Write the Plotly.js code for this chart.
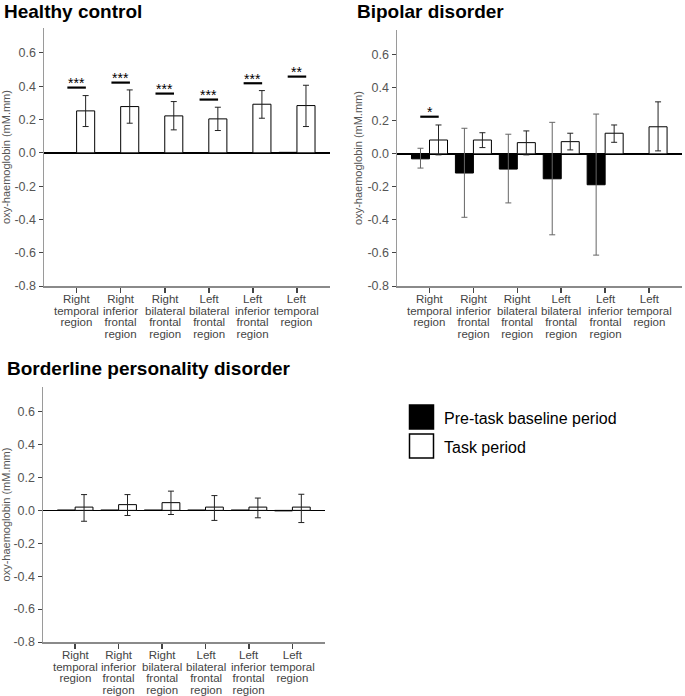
<!DOCTYPE html>
<html>
<head>
<meta charset="utf-8">
<script src="https://cdn.plot.ly/plotly-3.0.1.min.js"></script>
<style>
  html, body { margin: 0; padding: 0; background: #fff; }
  #chart { width: 685px; height: 696px; }
</style>
</head>
<body>
<div id="chart"></div>
<script>
// ---------------- DATA ----------------
const categories = [
  'Right temporal region',
  'Right inferior frontal region',
  'Right bilateral frontal region',
  'Left bilateral frontal region',
  'Left inferior frontal region',
  'Left temporal region'
];
const tickLabels = [
  'Right\ntemporal\nregion',
  'Right\ninferior\nfrontal\nregion',
  'Right\nbilateral\nfrontal\nregion',
  'Left\nbilateral\nfrontal\nregion',
  'Left\ninferior\nfrontal\nregion',
  'Left\ntemporal\nregion'
];
const tickLabelsBPD = [
  'Right\ntemporal\nregion',
  'Right\ninferior\nfrontal\nreigon',
  'Right\nbilateral\nfrontal\nregion',
  'Left\nbilateral\nfrontal\nregion',
  'Left\ninferior\nfrontal\nregion',
  'Left\ntemporal\nregion'
];
const seriesNames = ['Pre-task baseline period', 'Task period'];
const yTickVals = [-0.8, -0.6, -0.4, -0.2, 0.0, 0.2, 0.4, 0.6];
const yTitle = 'oxy-haemoglobin (mM.mm)';
const panelTitles = ['Healthy control', 'Bipolar disorder', 'Borderline personality disorder'];

// Healthy control
const hcPre     = [0.002, 0.002, 0.002, 0.002, 0.002, 0.003];
const hcTask    = [0.252, 0.278, 0.222, 0.204, 0.292, 0.284];
const hcTaskHi  = [0.344, 0.378, 0.308, 0.274, 0.374, 0.406];
const hcTaskLo  = [0.158, 0.178, 0.138, 0.134, 0.208, 0.158];
const hcSig     = ['***', '***', '***', '***', '***', '**'];
const hcSigY    = [0.392, 0.422, 0.356, 0.320, 0.418, 0.458];

// Bipolar disorder
const bdPre     = [-0.030, -0.116, -0.092, -0.151, -0.187, null];
const bdPreHi   = [0.034, 0.155, 0.119, 0.191, 0.241, null];
const bdPreLo   = [-0.086, -0.384, -0.297, -0.490, -0.613, null];
const bdTask    = [0.084, 0.084, 0.068, 0.074, 0.125, 0.164];
const bdTaskHi  = [0.175, 0.128, 0.139, 0.125, 0.175, 0.315];
const bdTaskLo  = [-0.006, 0.038, -0.006, 0.024, 0.070, 0.018];
const bdSig     = ['*', '', '', '', '', ''];
const bdSigY    = [0.225, null, null, null, null, null];

// Borderline personality disorder
const bpdPre    = [0.002, 0.002, 0.002, 0.002, 0.002, -0.003];
const bpdTask   = [0.020, 0.035, 0.047, 0.020, 0.020, 0.020];
const bpdTaskHi = [0.096, 0.096, 0.117, 0.090, 0.075, 0.098];
const bpdTaskLo = [-0.066, -0.031, -0.025, -0.061, -0.045, -0.074];

// ---------------- LAYOUT HELPERS ----------------
const W = 685, H = 696;
const fx = p => p / W;
const fy = p => 1 - p / H;
const FONT = 'Liberation Sans, Arial, Helvetica, sans-serif';
const LABEL_SIZE = 11.5;
const LABEL_SPACING = 11.6;   // px between lines of the category labels

const panels = [
  { ax: '', x0: 44, x1: 330, y0: 28, y1: 286, tx: 3, ty: -0.5, labels: tickLabels,
    pre: hcPre, preHi: null, preLo: null, task: hcTask, taskHi: hcTaskHi, taskLo: hcTaskLo, sig: hcSig, sigY: hcSigY },
  { ax: '2', x0: 397, x1: 682, y0: 30, y1: 286, tx: 356, ty: -0.5, labels: tickLabels,
    pre: bdPre, preHi: bdPreHi, preLo: bdPreLo, task: bdTask, taskHi: bdTaskHi, taskLo: bdTaskLo, sig: bdSig, sigY: bdSigY },
  { ax: '3', x0: 43, x1: 325, y0: 387, y1: 642, tx: 6, ty: 357, labels: tickLabelsBPD,
    pre: bpdPre, preHi: null, preLo: null, task: bpdTask, taskHi: bpdTaskHi, taskLo: bpdTaskLo, sig: null, sigY: null }
];

const traces = [];
const annotations = [];
const shapes = [];
const labelAnnIdx = [];
const layout = {
  width: W, height: H, autosize: false,
  margin: { l: 0, r: 0, t: 0, b: 0, pad: 0 },
  paper_bgcolor: '#ffffff', plot_bgcolor: '#ffffff',
  showlegend: false,
  barmode: 'group', bargap: 0.18, bargroupgap: 0,
  font: { family: FONT, color: '#555555', size: 12 }
};

panels.forEach((p, pi) => {
  const xa = 'x' + p.ax, ya = 'y' + p.ax;
  const hi = (v, h) => v.map((d, i) => (d == null || h[i] == null) ? null : h[i] - d);
  const lo = (v, l) => v.map((d, i) => (d == null || l[i] == null) ? null : d - l[i]);

  const preTrace = {
    type: 'bar', name: seriesNames[0], x: categories, y: p.pre,
    xaxis: xa, yaxis: ya,
    marker: { color: '#000000', line: { color: '#000000', width: 1 } },
    hoverinfo: 'skip'
  };
  if (p.preHi) {
    preTrace.error_y = { type: 'data', symmetric: false, array: hi(p.pre, p.preHi), arrayminus: lo(p.pre, p.preLo),
      color: '#666666', thickness: 1, width: 3 };
  }
  traces.push(preTrace);
  traces.push({
    type: 'bar', name: seriesNames[1], x: categories, y: p.task,
    xaxis: xa, yaxis: ya,
    marker: { color: '#ffffff', line: { color: '#000000', width: 1 } },
    error_y: { type: 'data', symmetric: false, array: hi(p.task, p.taskHi), arrayminus: lo(p.task, p.taskLo),
      color: '#222222', thickness: 1, width: 3 },
    hoverinfo: 'skip'
  });

  layout['xaxis' + p.ax] = {
    domain: [fx(p.x0), fx(p.x1)], anchor: ya, type: 'category',
    range: [-0.74, 5.75], fixedrange: true,
    showline: true, linecolor: '#8a8a8a', linewidth: 1.5,
    ticks: 'outside', ticklen: 5, tickwidth: 1.5, tickcolor: '#444444',
    showticklabels: false, showgrid: false, zeroline: false
  };
  layout['yaxis' + p.ax] = {
    domain: [fy(p.y1), fy(p.y0)], anchor: xa,
    range: [-0.8, 0.75], fixedrange: true,
    tickvals: yTickVals, ticktext: yTickVals.map(v => v.toFixed(1)),
    ticks: 'outside', ticklen: 4, tickwidth: 1, tickcolor: '#444444',
    tickfont: { family: FONT, size: 12.5, color: '#555555' },
    showline: true, linecolor: '#9a9a9a', linewidth: 1.5,
    showgrid: false,
    zeroline: true, zerolinecolor: '#000000', zerolinewidth: 1.5,
    title: { text: yTitle, font: { family: FONT, size: 11, color: '#555555' }, standoff: 2 }
  };

  // panel title
  annotations.push({
    xref: 'paper', yref: 'paper', x: fx(p.tx), y: fy(Math.max(0, p.ty)), xanchor: 'left', yanchor: 'top',
    borderpad: 0,
    text: '<b>' + panelTitles[pi] + '</b>', showarrow: false,
    font: { family: FONT, size: 19, color: '#000000' }
  });

  // category labels (one text per category; line spacing tightened after render)
  p.labels.forEach((lab, ci) => {
    labelAnnIdx.push(annotations.length);
    annotations.push({
      xref: xa, yref: 'paper', x: ci, y: fy(p.y1 + 6),
      xanchor: 'center', yanchor: 'top', align: 'center', borderpad: 0,
      text: lab.split('\n').join('<br>'), showarrow: false,
      font: { family: FONT, size: LABEL_SIZE, color: '#444444' }
    });
  });

  // significance markers
  if (p.sig) {
    p.sig.forEach((s, ci) => {
      if (!s) return;
      shapes.push({
        type: 'line', xref: xa, yref: ya, x0: ci - 0.21, x1: ci + 0.21, y0: p.sigY[ci], y1: p.sigY[ci],
        line: { color: '#000000', width: 2.2 }
      });
      annotations.push({
        xref: xa, yref: ya, x: ci, y: p.sigY[ci], xanchor: 'center', yanchor: 'middle', yshift: 4.5,
        text: s, showarrow: false,
        font: { family: FONT, size: 14, color: '#000000' }
      });
    });
  }
});

// legend (drawn manually to match swatch size)
const legendFills = ['#000000', '#ffffff'];
seriesNames.forEach((n, i) => {
  const top = 405 + i * 29;
  shapes.push({
    type: 'rect', xref: 'paper', yref: 'paper',
    x0: fx(409.5), x1: fx(433.5), y0: fy(top + 24), y1: fy(top),
    fillcolor: legendFills[i], line: { color: '#000000', width: 1.5 }
  });
  annotations.push({
    xref: 'paper', yref: 'paper', x: fx(442), y: fy(top + 13), xanchor: 'left', yanchor: 'middle',
    text: n, showarrow: false, font: { family: FONT, size: 16, color: '#000000' }
  });
});

layout.annotations = annotations;
layout.shapes = shapes;

Plotly.newPlot('chart', traces, layout, { staticPlot: true, displayModeBar: false }).then(gd => {
  // tighten line spacing of the multi-line category labels
  labelAnnIdx.forEach(idx => {
    const g = gd.querySelector('.annotation[data-index="' + idx + '"]');
    if (!g) return;
    const lines = Array.from(g.querySelectorAll('text tspan.line'));
    if (lines.length < 2) return;
    const dys = lines.map(t => parseFloat(t.getAttribute('dy') || '0'));
    const cumulative = lines.length > 2 ? (dys[2] > dys[1] + 0.01) : true;
    lines.forEach((t, i) => {
      if (i === 0) return;
      t.setAttribute('dy', String(cumulative ? i * LABEL_SPACING : LABEL_SPACING));
    });
  });
});
</script>
</body>
</html>
